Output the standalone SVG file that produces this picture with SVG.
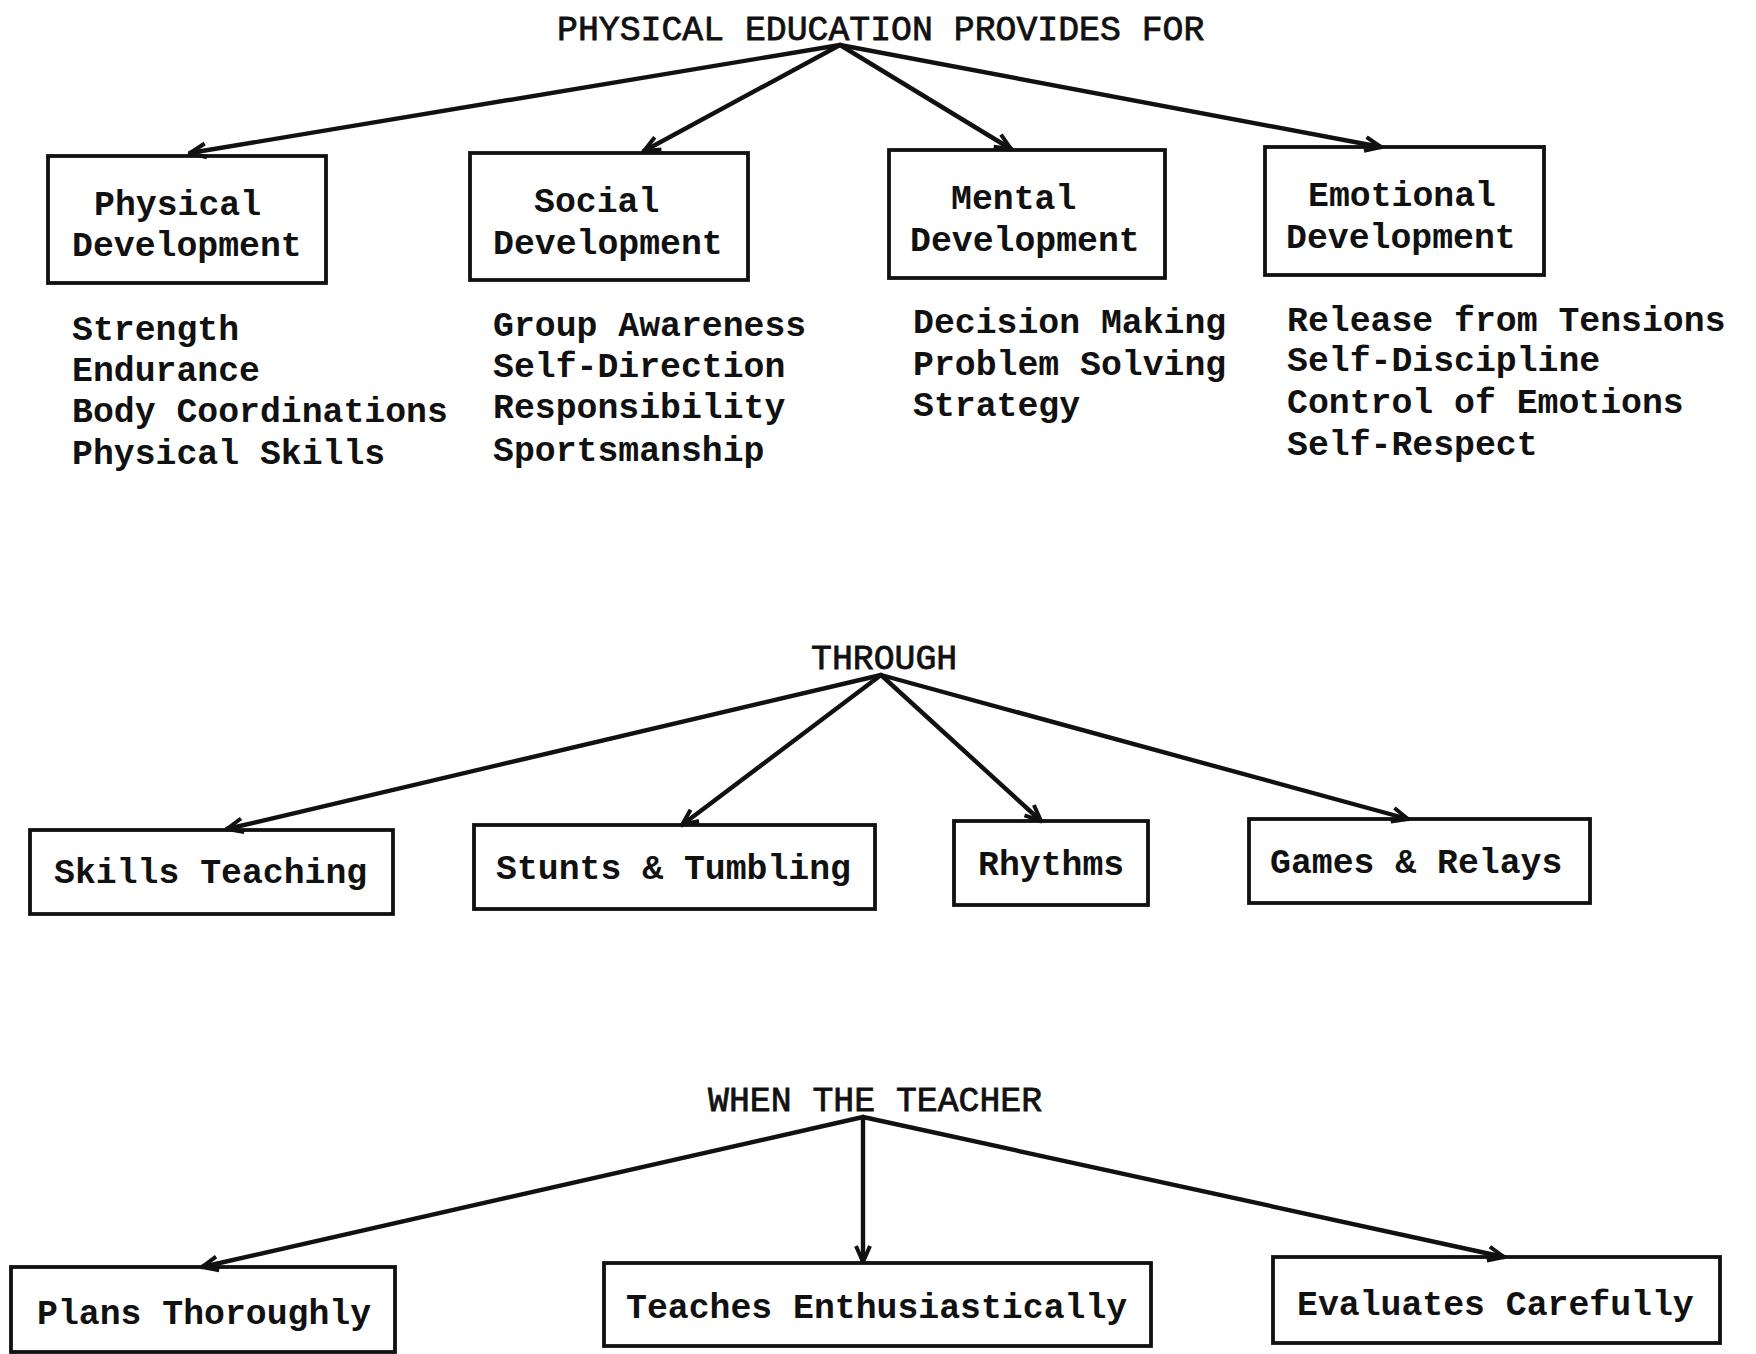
<svg xmlns="http://www.w3.org/2000/svg" width="1756" height="1354" viewBox="0 0 1756 1354">
<defs>
<marker id="ah" viewBox="0 0 20 20" refX="18" refY="10" markerWidth="20" markerHeight="20" markerUnits="userSpaceOnUse" orient="auto">
<path d="M2,3 L18,10 L2,17" fill="none" stroke="#111" stroke-width="4" stroke-linejoin="miter"/>
</marker>
</defs>
<style>
text{font-family:"Liberation Mono","Courier New",monospace;font-size:34.8px;fill:#111;font-weight:bold}
.h{font-weight:normal;stroke:#111;stroke-width:0.8}
.box{fill:none;stroke:#111;stroke-width:3.8}
.c{fill:none;stroke:#111;stroke-width:4.4;stroke-linecap:round;marker-end:url(#ah)}
</style>
<rect width="1756" height="1354" fill="#fff"/>
<g id="title1"><text class="h" x="557" y="40">PHYSICAL EDUCATION PROVIDES FOR</text></g>
<g id="title2"><text class="h" x="811" y="669">THROUGH</text></g>
<g id="title3"><text class="h" x="708" y="1111">WHEN THE TEACHER</text></g>

<g id="physical">
<rect class="box" x="48" y="156" width="278" height="127"/>
<text x="94" y="215">Physical</text>
<text x="72" y="256">Development</text>
<text x="72" y="340">Strength</text>
<text x="72" y="381">Endurance</text>
<text x="72" y="422">Body Coordinations</text>
<text x="72" y="464">Physical Skills</text>
</g>
<g id="social">
<rect class="box" x="470" y="153" width="278" height="127"/>
<text x="534" y="212">Social</text>
<text x="493" y="254">Development</text>
<text x="493" y="336">Group Awareness</text>
<text x="493" y="377">Self-Direction</text>
<text x="493" y="418">Responsibility</text>
<text x="493" y="461">Sportsmanship</text>
</g>
<g id="mental">
<rect class="box" x="889" y="150" width="276" height="128"/>
<text x="951" y="209">Mental</text>
<text x="910" y="251">Development</text>
<text x="913" y="333">Decision Making</text>
<text x="913" y="375">Problem Solving</text>
<text x="913" y="416">Strategy</text>
</g>
<g id="emotional">
<rect class="box" x="1265" y="147" width="279" height="128"/>
<text x="1308" y="206">Emotional</text>
<text x="1286" y="248">Development</text>
<text x="1287" y="331">Release from Tensions</text>
<text x="1287" y="371">Self-Discipline</text>
<text x="1287" y="413">Control of Emotions</text>
<text x="1287" y="455">Self-Respect</text>
</g>

<g id="skills"><rect class="box" x="30" y="830" width="363" height="84"/><text x="54" y="883">Skills Teaching</text></g>
<g id="stunts"><rect class="box" x="474" y="825" width="401" height="84"/><text x="496" y="879">Stunts &amp; Tumbling</text></g>
<g id="rhythms"><rect class="box" x="954" y="821" width="194" height="84"/><text x="978" y="875">Rhythms</text></g>
<g id="games"><rect class="box" x="1249" y="819" width="341" height="84"/><text x="1270" y="873">Games &amp; Relays</text></g>

<g id="plans"><rect class="box" x="11" y="1267" width="384" height="85"/><text x="37" y="1324">Plans Thoroughly</text></g>
<g id="teaches"><rect class="box" x="604" y="1263" width="547" height="83"/><text x="626" y="1318">Teaches Enthusiastically</text></g>
<g id="evaluates"><rect class="box" x="1273" y="1257" width="447" height="86"/><text x="1297" y="1315">Evaluates Carefully</text></g>

<g id="connectors">
<line class="c" x1="840" y1="45" x2="190" y2="153"/>
<line class="c" x1="840" y1="45" x2="644" y2="151"/>
<line class="c" x1="840" y1="45" x2="1011" y2="149"/>
<line class="c" x1="840" y1="45" x2="1381" y2="147"/>
<line class="c" x1="881" y1="675" x2="227" y2="829"/>
<line class="c" x1="881" y1="675" x2="682" y2="825"/>
<line class="c" x1="881" y1="675" x2="1041" y2="821"/>
<line class="c" x1="881" y1="675" x2="1408" y2="819"/>
<line class="c" x1="863" y1="1117" x2="202" y2="1267"/>
<line class="c" x1="863" y1="1117" x2="863" y2="1262"/>
<line class="c" x1="863" y1="1117" x2="1504" y2="1257"/>
</g>
</svg>
